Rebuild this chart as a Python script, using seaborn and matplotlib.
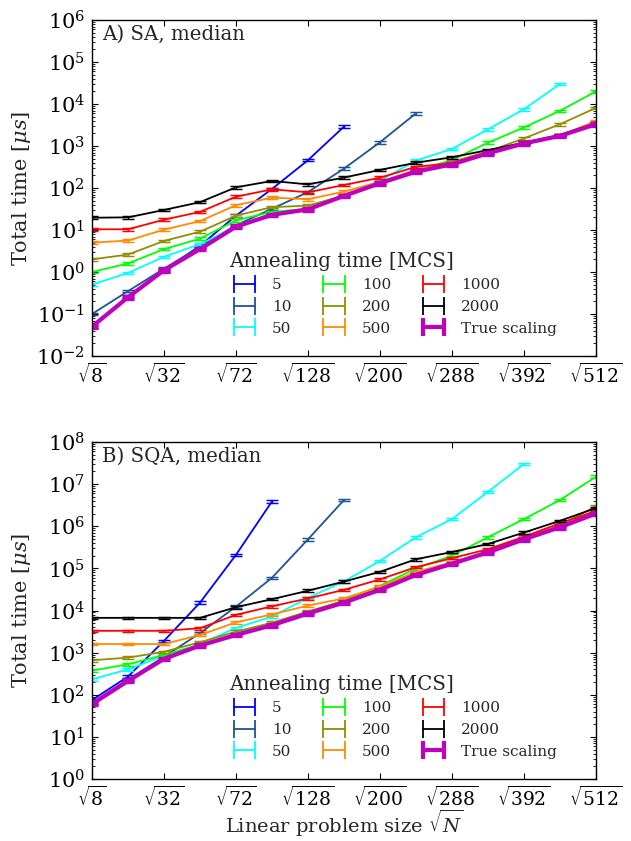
import numpy as np
import pandas as pd
import matplotlib
matplotlib.use("Agg")
import matplotlib.pyplot as plt
from matplotlib.lines import Line2D
from matplotlib.ticker import LogLocator, NullFormatter
import seaborn as sns

# ---------------- data ----------------
L_values = list(range(2, 17))          # linear size L, sqrt(N) = L*sqrt(2)
tick_L = [2, 4, 6, 8, 10, 12, 14, 16]
tick_labels = [r"$\sqrt{8}$", r"$\sqrt{32}$", r"$\sqrt{72}$", r"$\sqrt{128}$",
               r"$\sqrt{200}$", r"$\sqrt{288}$", r"$\sqrt{392}$", r"$\sqrt{512}$"]

series_labels = ["5", "10", "50", "100", "200", "500", "1000", "2000", "True scaling"]
series_colors = ["#0000ff", "#1c5494", "#00ffff", "#00ff00", "#8f8f00",
                 "#ff8c00", "#ff0000", "#000000", "#bf00bf"]

# Panel A: SA, median total time [us]
sa_5 = [0.05, 0.26, 1.1, 4.2, 22, 95, 460, 2900]
sa_10 = [0.1, 0.35, 1.2, 4.0, 13, 32, 80, 290, 1230, 6000]
sa_50 = [0.5, 0.95, 2.3, 4.6, 12, 22, 31, 65, 150, 450, 850, 2500, 7500, 30000]
sa_100 = [1.0, 1.6, 3.5, 6.2, 17, 27, 32, 65, 135, 260, 465, 1200, 2770, 6900, 20000]
sa_200 = [2.0, 2.6, 5.5, 9.1, 22, 35, 38, 66, 135, 255, 420, 740, 1520, 3300, 8100]
sa_500 = [5.0, 5.6, 10.2, 16.3, 39, 59, 54, 82, 141, 270, 400, 700, 1200, 1800, 3900]
sa_1000 = [10.4, 10.4, 17.6, 27, 62, 93, 79, 118, 176, 320, 390, 700, 1200, 1800, 3400]
sa_2000 = [19.6, 20, 30, 46, 104, 147, 122, 177, 270, 400, 540, 800, 1200, 1820, 3500]
sa_true = [0.05, 0.25, 1.1, 3.5, 12, 23, 31, 65, 130, 245, 365, 670, 1150, 1740, 3300]

# Panel B: SQA, median total time [us]
sqa_5 = [75, 270, 1900, 15400, 210000, 3.9e6]
sqa_10 = [65, 230, 800, 2900, 12400, 60000, 4.9e5, 4.2e6]
sqa_50 = [233, 400, 850, 1600, 3870, 7200, 20000, 49000, 151000, 550000, 1.48e6, 6.6e6, 3.0e7]
sqa_100 = [375, 530, 880, 1550, 2800, 4800, 9000, 17500, 38500, 100000, 200000, 550000,
           1.48e6, 4.2e6, 1.5e7]
sqa_200 = [660, 760, 1050, 1770, 3150, 5140, 9500, 17000, 35000, 75000, 135000, 260000,
           530000, 1.05e6, 3.0e6]
sqa_500 = [1600, 1600, 1600, 2630, 5250, 8100, 13100, 19400, 37000, 83000, 140000, 250000,
           520000, 1.0e6, 2.4e6]
sqa_1000 = [3300, 3300, 3300, 3800, 7900, 12600, 19400, 31000, 55000, 107000, 175000,
            285000, 565000, 1.18e6, 2.3e6]
sqa_2000 = [6700, 6700, 6700, 6700, 12000, 18600, 29500, 48700, 83000, 165000, 245000,
            380000, 710000, 1.35e6, 2.7e6]
sqa_true = [60, 213, 710, 1470, 2630, 4470, 8500, 15400, 31000, 70000, 129000, 240000,
            490000, 950000, 2.0e6]

rel_err = 0.07   # relative size of the plotted error bars

panels = [
    dict(series=[sa_5, sa_10, sa_50, sa_100, sa_200, sa_500, sa_1000, sa_2000, sa_true],
         title="A) SA, median", ylim=(1e-2, 1e6)),
    dict(series=[sqa_5, sqa_10, sqa_50, sqa_100, sqa_200, sqa_500, sqa_1000, sqa_2000, sqa_true],
         title="B) SQA, median", ylim=(1e0, 1e8)),
]

# ---------------- style ----------------
sns.set_style("ticks")
plt.rcParams.update({
    "font.family": ["DejaVu Serif"],
    "mathtext.fontset": "dejavuserif",
    "xtick.direction": "in",
    "ytick.direction": "in",
    "xtick.top": True,
    "ytick.right": True,
    "xtick.major.size": 4,
    "ytick.major.size": 4,
    "xtick.minor.size": 2,
    "ytick.minor.size": 2,
    "axes.linewidth": 1.0,
    "axes.edgecolor": "black",
    "xtick.color": "black",
    "ytick.color": "black",
})

fig = plt.figure(figsize=(6.31, 8.41), dpi=100)
left, right = 0.1458, 0.9445
axA = fig.add_axes([left, 0.5767, right - left, 0.9762 - 0.5767])
axB = fig.add_axes([left, 0.0737, right - left, 0.4744 - 0.0737])

for ax, panel in zip([axA, axB], panels):
    for vals, lab, col in zip(panel["series"], series_labels, series_colors):
        xs = L_values[:len(vals)]
        lw = 3.0 if lab == "True scaling" else 1.3
        df = pd.DataFrame({"L": xs, "t": vals})
        sns.lineplot(data=df, x="L", y="t", color=col, lw=lw, ax=ax,
                     legend=False, errorbar=None)
        v = np.array(vals, dtype=float)
        ax.errorbar(xs, v, yerr=v * rel_err, fmt="none", ecolor=col,
                    elinewidth=lw * 0.8, capsize=4, capthick=lw * 0.8)
    ax.set_yscale("log")
    ax.set_xlim(2, 16)
    ax.set_ylim(*panel["ylim"])
    ax.yaxis.set_major_locator(LogLocator(base=10, numticks=20))
    ax.yaxis.set_minor_locator(LogLocator(base=10, subs=np.arange(2, 10), numticks=200))
    ax.yaxis.set_minor_formatter(NullFormatter())
    ax.set_xticks(tick_L)
    ax.set_xticklabels(tick_labels)
    ax.tick_params(axis="y", which="major", labelsize=15, pad=5)
    ax.tick_params(axis="x", which="major", labelsize=13.5, pad=5)
    ax.set_ylabel(r"Total time [$\mu s$]", fontsize=15)
    ax.yaxis.set_label_coords(-0.118, 0.5)
    ax.set_xlabel("")
    ax.text(0.02, 0.985, panel["title"], transform=ax.transAxes, fontsize=14.2,
            va="top", ha="left")
    handles = [Line2D([], [], color=c, lw=(3.0 if l == "True scaling" else 1.3),
                      marker="|", markersize=13,
                      markeredgewidth=(3.0 if l == "True scaling" else 1.3))
               for l, c in zip(series_labels, series_colors)]
    leg = ax.legend(handles, series_labels, ncol=3, loc="lower right",
                    bbox_to_anchor=(0.95, 0.02), frameon=False, fontsize=11,
                    title="Annealing time [MCS]", title_fontsize=14.3,
                    alignment="left", numpoints=2, handlelength=2.0,
                    handletextpad=0.8, columnspacing=1.8, labelspacing=0.5)
    for sp in ax.spines.values():
        sp.set_visible(True)

axB.set_xlabel(r"Linear problem size $\sqrt{N}$", fontsize=14)
axB.xaxis.set_label_coords(0.5, -0.086)

fig.savefig("out.png", dpi=100)
